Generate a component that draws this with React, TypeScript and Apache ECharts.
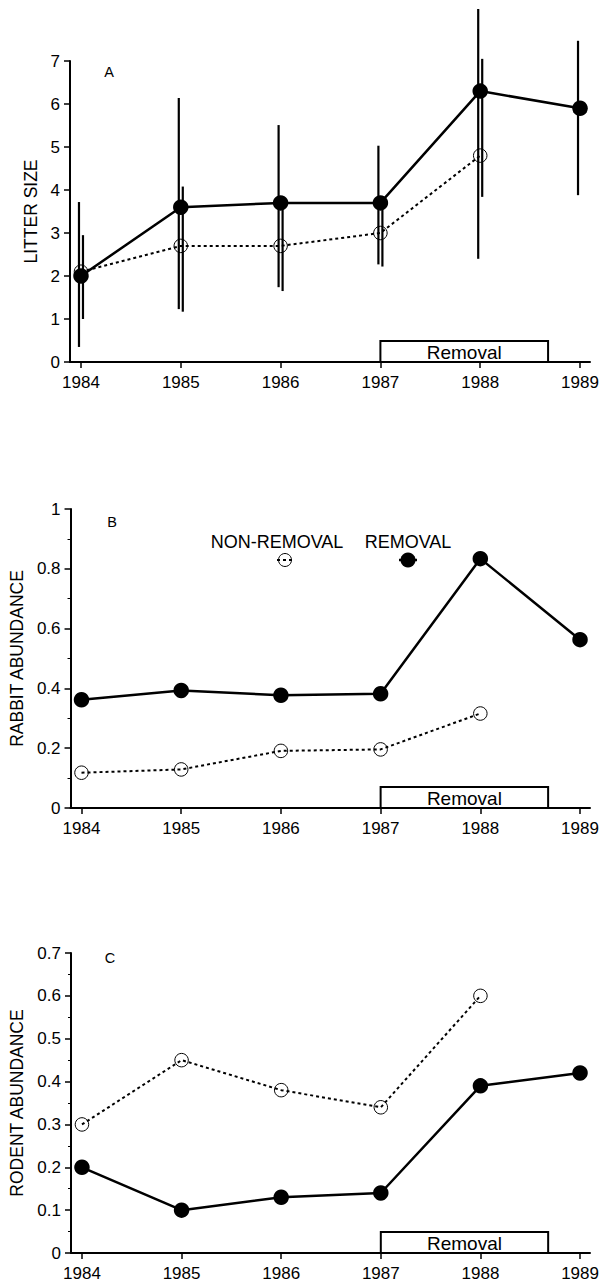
import React, { useEffect, useRef } from "react";
import * as echarts from "echarts";

const FONT = '"Liberation Sans", Arial, Helvetica, sans-serif';

// ---------- data ----------
const years = [1984, 1985, 1986, 1987, 1988, 1989];
const yearsNonRemoval = [1984, 1985, 1986, 1987, 1988];

// Panel A: litter size
const litterRemoval = [2.0, 3.6, 3.7, 3.7, 6.3, 5.9];
const litterRemovalLow = [0.35, 1.23, 1.74, 2.27, 2.4, 3.88];
const litterRemovalHigh = [3.72, 6.14, 5.51, 5.03, 8.21, 7.47];
const litterNonRemoval = [2.1, 2.7, 2.7, 3.0, 4.8];
const litterNonRemovalLow = [1.0, 1.17, 1.65, 2.22, 3.84];
const litterNonRemovalHigh = [2.95, 4.08, 3.75, 3.78, 7.05];

// Panel B: rabbit abundance
const rabbitRemoval = [0.362, 0.393, 0.377, 0.382, 0.834, 0.563];
const rabbitNonRemoval = [0.118, 0.129, 0.191, 0.196, 0.316];

// Panel C: rodent abundance
const rodentRemoval = [0.2, 0.1, 0.13, 0.14, 0.39, 0.42];
const rodentNonRemoval = [0.3, 0.45, 0.38, 0.34, 0.6];

// Removal period
const removalSpan = [[1987, 1988.68]];
const removalLabel = "Removal";

const panelLetters = ["A", "B", "C"];
const yNames = ["LITTER SIZE", "RABBIT ABUNDANCE", "RODENT ABUNDANCE"];
const yMax = [7, 1, 0.7];
const yInterval = [1, 0.2, 0.1];
const legendNames = ["NON-REMOVAL", "REMOVAL"];

export default function App() {
  const ref = useRef<HTMLDivElement>(null);

  useEffect(() => {
    if (!ref.current) return;
    const chart = echarts.init(ref.current, null, { renderer: "svg" });

    const grids = [
      { left: 70, top: 61, width: 520, height: 301 },
      { left: 70, top: 509, width: 520, height: 299 },
      { left: 70, top: 953, width: 520, height: 300 },
    ];
    const nameGaps = [29, 43, 45];
    const minor = [false, true, true];

    const xAxes = grids.map((_, i) => ({
      type: "value",
      gridIndex: i,
      min: 1983.89,
      max: 1989.1,
      axisLine: { onZero: false, lineStyle: { color: "#000", width: 2 } },
      axisTick: {
        show: true,
        customValues: years,
        length: 6,
        lineStyle: { color: "#000", width: 1.5 },
      },
      axisLabel: {
        customValues: years,
        margin: 12,
        color: "#000",
        fontSize: 17,
        fontFamily: FONT,
        formatter: (v: number) => String(Math.round(v)),
      },
      splitLine: { show: false },
    }));

    const yAxes = grids.map((_, i) => ({
      type: "value",
      gridIndex: i,
      min: 0,
      max: yMax[i],
      interval: yInterval[i],
      name: yNames[i],
      nameLocation: "middle",
      nameGap: nameGaps[i],
      nameTextStyle: { color: "#000", fontSize: 17.5, fontFamily: FONT },
      axisLine: { show: true, lineStyle: { color: "#000", width: 2 } },
      axisTick: { show: true, length: 6, lineStyle: { color: "#000", width: 1.5 } },
      minorTick: {
        show: minor[i],
        splitNumber: 2,
        length: 3,
        lineStyle: { color: "#000", width: 1 },
      },
      axisLabel: {
        margin: 10,
        color: "#000",
        fontSize: 17,
        fontFamily: FONT,
        formatter: (v: number) => String(Math.round(v * 100) / 100),
      },
      splitLine: { show: false },
      minorSplitLine: { show: false },
    }));

    const lineSeries = (
      name: string,
      idx: number,
      xs: number[],
      ys: number[],
      filled: boolean
    ) => ({
      type: "line",
      name,
      xAxisIndex: idx,
      yAxisIndex: idx,
      data: xs.map((x, k) => [x, ys[k]]),
      symbol: "circle",
      symbolSize: filled ? 15.5 : 13.5,
      itemStyle: filled
        ? { color: "#000" }
        : { color: "rgba(255,255,255,0)", borderColor: "#000", borderWidth: 1 },
      lineStyle: {
        color: "#000",
        width: filled ? 2.5 : 2,
        type: filled ? "solid" : [3, 3],
      },
      z: filled ? 4 : 3,
      silent: true,
    });

    const errorSeries = (low: number[], high: number[], xs: number[], offset: number) => ({
      type: "custom",
      xAxisIndex: 0,
      yAxisIndex: 0,
      clip: false,
      silent: true,
      z: 1,
      data: xs.map((x, k) => [x, low[k], high[k]]),
      encode: { x: 0, y: [1, 2] },
      renderItem: (_p: any, api: any) => {
        const x = api.value(0);
        const lo = api.coord([x, api.value(1)]);
        const hi = api.coord([x, api.value(2)]);
        return {
          type: "line",
          shape: { x1: lo[0] + offset, y1: lo[1], x2: hi[0] + offset, y2: hi[1] },
          style: { stroke: "#000", lineWidth: 2.2 },
        };
      },
    });

    const removalSeries = (idx: number) => ({
      type: "custom",
      xAxisIndex: idx,
      yAxisIndex: idx,
      clip: false,
      silent: true,
      z: 6,
      data: removalSpan,
      encode: { x: [0, 1] },
      renderItem: (_p: any, api: any) => {
        const a = api.coord([api.value(0), 0]);
        const b = api.coord([api.value(1), 0]);
        const h = 21;
        return {
          type: "group",
          children: [
            {
              type: "rect",
              shape: { x: a[0], y: a[1] - h, width: b[0] - a[0], height: h },
              style: { fill: "#fff", stroke: "#000", lineWidth: 2 },
            },
            {
              type: "text",
              x: (a[0] + b[0]) / 2,
              y: a[1] - h / 2 + 1,
              style: {
                text: removalLabel,
                fill: "#000",
                fontSize: 19,
                fontFamily: FONT,
                align: "center",
                verticalAlign: "middle",
              },
            },
          ],
        };
      },
    });

    const letterPos = [
      [109, 72],
      [112, 522],
      [110, 958],
    ];

    const graphic: any[] = panelLetters.map((t, i) => ({
      type: "text",
      x: letterPos[i][0],
      y: letterPos[i][1],
      style: {
        text: t,
        fill: "#000",
        fontSize: 14.5,
        fontFamily: FONT,
        align: "center",
        verticalAlign: "middle",
      },
    }));

    // Legend in panel B
    graphic.push(
      {
        type: "text",
        x: 277,
        y: 542,
        style: {
          text: legendNames[0],
          fill: "#000",
          fontSize: 18,
          fontFamily: FONT,
          align: "center",
          verticalAlign: "middle",
        },
      },
      {
        type: "text",
        x: 408,
        y: 542,
        style: {
          text: legendNames[1],
          fill: "#000",
          fontSize: 18,
          fontFamily: FONT,
          align: "center",
          verticalAlign: "middle",
        },
      },
      {
        type: "line",
        shape: { x1: 277, y1: 560, x2: 294, y2: 560 },
        style: { stroke: "#000", lineWidth: 2, lineDash: [3, 3] },
      },
      {
        type: "circle",
        shape: { cx: 285, cy: 560, r: 6.5 },
        style: { fill: "rgba(255,255,255,0)", stroke: "#000", lineWidth: 1 },
      },
      {
        type: "line",
        shape: { x1: 399, y1: 560, x2: 417, y2: 560 },
        style: { stroke: "#000", lineWidth: 2.5 },
      },
      {
        type: "circle",
        shape: { cx: 408, cy: 560, r: 7.5 },
        style: { fill: "#000" },
      }
    );

    const option = {
      animation: false,
      backgroundColor: "#fff",
      grid: grids,
      xAxis: xAxes,
      yAxis: yAxes,
      graphic,
      series: [
        errorSeries(litterRemovalLow, litterRemovalHigh, years, -2),
        errorSeries(litterNonRemovalLow, litterNonRemovalHigh, yearsNonRemoval, 2),
        lineSeries("NON-REMOVAL", 0, yearsNonRemoval, litterNonRemoval, false),
        lineSeries("REMOVAL", 0, years, litterRemoval, true),
        lineSeries("NON-REMOVAL", 1, yearsNonRemoval, rabbitNonRemoval, false),
        lineSeries("REMOVAL", 1, years, rabbitRemoval, true),
        lineSeries("NON-REMOVAL", 2, yearsNonRemoval, rodentNonRemoval, false),
        lineSeries("REMOVAL", 2, years, rodentRemoval, true),
        removalSeries(0),
        removalSeries(1),
        removalSeries(2),
      ],
    };

    chart.setOption(option as any);
    return () => chart.dispose();
  }, []);

  return (
    <div
      ref={ref}
      style={{
        position: "absolute",
        left: 0,
        top: 0,
        width: 602,
        height: 1285,
        background: "#fff",
      }}
    />
  );
}
